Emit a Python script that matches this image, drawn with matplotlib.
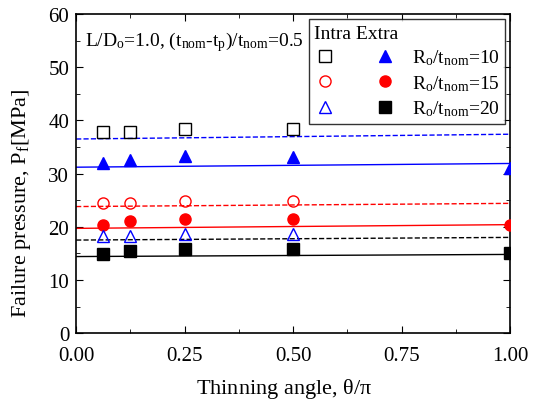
import numpy as np
import matplotlib
matplotlib.use("Agg")
import matplotlib.pyplot as plt
from matplotlib.legend_handler import HandlerTuple
from matplotlib.ticker import MultipleLocator, FormatStrFormatter

plt.rcParams['font.family'] = ['Liberation Serif', 'DejaVu Serif']
plt.rcParams['mathtext.fontset'] = 'custom'
plt.rcParams['mathtext.rm'] = 'Liberation Serif'
plt.rcParams['mathtext.it'] = 'Liberation Serif'

# thinning angle / pi
theta = [0.0625, 0.125, 0.25, 0.5, 1.0]
ratios = [10, 15, 20]

# intra (open markers), no value visible at 1.0
intra_10 = [37.9, 37.9, 38.3, 38.3]
intra_15 = [24.4, 24.5, 24.8, 24.9]
intra_20 = [18.2, 18.3, 18.6, 18.6]

# extra (filled markers)
extra_10 = [32.0, 32.6, 33.3, 33.2, 31.1]
extra_15 = [20.4, 21.1, 21.4, 21.4, 20.3]
extra_20 = [14.9, 15.4, 15.8, 15.8, 15.0]

# fitted lines (value at theta=0 and theta=1)
fit_x = [0.0, 1.0]
fit_intra = [[36.5, 37.4], [23.8, 24.4], [17.5, 18.0]]
fit_extra = [[31.2, 31.9], [19.7, 20.4], [14.4, 14.8]]

fig = plt.figure(figsize=(5.4, 4.06), dpi=100)
ax = fig.add_axes([0.141, 0.177, 0.804, 0.786])

intra = [intra_10, intra_15, intra_20]
extra = [extra_10, extra_15, extra_20]
intra_style = [('s', 'black'), ('o', 'red'), ('^', 'blue')]
extra_style = [('^', 'blue'), ('o', 'red'), ('s', 'black')]
line_col = ['blue', 'red', 'black']

handles = []
labels = []
for i in range(3):
    ax.plot(fit_x, fit_intra[i], '--', color=line_col[i], lw=1.0, zorder=2)
    ax.plot(fit_x, fit_extra[i], '-', color=line_col[i], lw=1.0, zorder=2)
    m, c = intra_style[i]
    h1, = ax.plot(theta[:len(intra[i])], intra[i], m, mfc='none', mec=c,
                  mew=1.0, ms=8, ls='none', zorder=3)
    m, c = extra_style[i]
    h2, = ax.plot(theta[:len(extra[i])], extra[i], m, color=c, ms=8,
                  ls='none', zorder=3)
    handles.append((h1, h2))
    labels.append(r'R$_{\rm o}$/t$_{\rm nom}$=%d' % ratios[i])

leg = ax.legend(handles, labels, handler_map={tuple: HandlerTuple(ndivide=None, pad=2.0)},
                handlelength=4.2, loc='upper right', fontsize=14, title='Intra Extra',
                title_fontsize=14, frameon=True, fancybox=False, edgecolor='black',
                borderaxespad=0.25, labelspacing=0.3, handletextpad=0.8,
                borderpad=0.3)
leg._legend_box.align = 'left'
leg.get_frame().set_linewidth(1.0)

ax.text(0.02, 55.0, r'L/D$_{\rm o}$=1.0, (t$_{\rm nom}$-t$_{\rm p}$)/t$_{\rm nom}$=0.5',
        fontsize=14, va='center')

ax.set_xlim(0, 1.0)
ax.set_ylim(0, 60)
ax.xaxis.set_major_locator(MultipleLocator(0.25))
ax.xaxis.set_minor_locator(MultipleLocator(0.125))
ax.yaxis.set_major_locator(MultipleLocator(10))
ax.yaxis.set_minor_locator(MultipleLocator(5))
ax.tick_params(which='both', direction='in', top=True, right=True, labelsize=15)
ax.tick_params(which='major', length=5)
ax.tick_params(which='minor', length=3)
ax.tick_params(axis='x', pad=9)
ax.tick_params(axis='y', pad=5)
ax.xaxis.set_major_formatter(FormatStrFormatter('%.2f'))
for s in ax.spines.values():
    s.set_linewidth(1.2)

ax.set_xlabel(r'Thinning angle, $\theta/\pi$', fontsize=16)
ax.set_ylabel(r'Failure pressure, P$_{\rm f}$[MPa]', fontsize=16)
ax.xaxis.set_label_coords(0.48, -0.135)
ax.yaxis.set_label_coords(-0.100, 0.41)

fig.savefig('out.png', dpi=100)
